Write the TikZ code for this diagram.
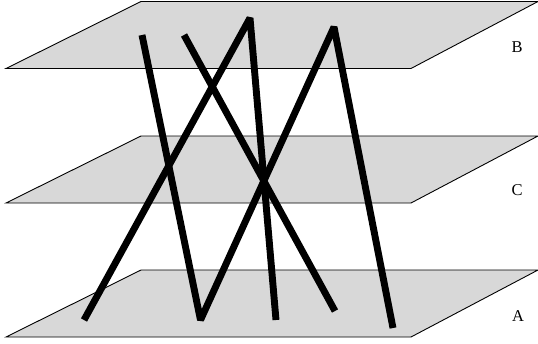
\documentclass[tikz,border=0pt]{standalone}
\usepackage{fontspec}
\setmainfont{Liberation Serif}
\definecolor{planegray}{RGB}{216,216,216}
\tikzset{
  plane/.style={fill=planegray,draw=black,line width=0.9pt,line join=miter},
  bar/.style={draw=black,line width=6.9pt,line join=bevel,line cap=butt},
  lbl/.style={font=\fontsize{16.5}{16.5}\selectfont,text=black,inner sep=0pt,anchor=base}
}
\begin{document}
\begin{tikzpicture}[x=1pt,y=-1pt]
\useasboundingbox (0,0) rectangle (538,343);
\draw[plane] (141,1.5) -- (538,1.5) -- (411,68.5) -- (6,68.5) -- cycle;
\draw[plane] (141,136) -- (538,136) -- (411,203) -- (6,203) -- cycle;
\draw[plane] (141,270) -- (538,270) -- (411,337) -- (6,337) -- cycle;
\coordinate (p1) at (84,320);
\coordinate (p2) at (250,18);
\coordinate (p3) at (276,320);
\coordinate (q1) at (142,35);
\coordinate (q2) at (200.5,320);
\coordinate (q3) at (334,27);
\coordinate (q4) at (393,328);
\coordinate (r1) at (184,35);
\coordinate (r2) at (335,311);
\draw[bar] (p1) -- (p2) -- (p3);
\draw[bar] (q1) -- (q2) -- (q3) -- (q4);
\draw[bar] (r1) -- (r2);
\node[lbl] (labB) at (517,52) {B};
\node[lbl] (labC) at (517,195) {C};
\node[lbl] (labA) at (518,321) {A};
\end{tikzpicture}
\end{document}
